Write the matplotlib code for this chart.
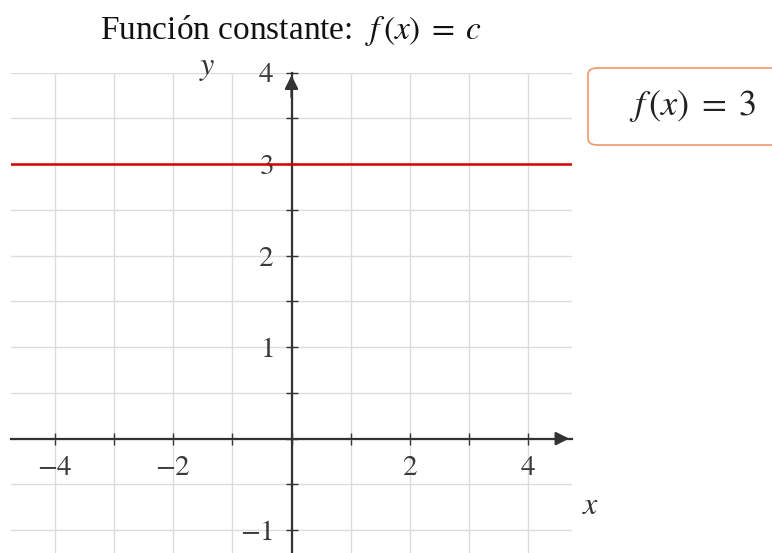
import matplotlib
matplotlib.use("Agg")
import matplotlib.pyplot as plt
from matplotlib.patches import FancyBboxPatch

plt.rcParams["font.family"] = ["Liberation Serif", "DejaVu Serif"]
plt.rcParams["mathtext.fontset"] = "stix"

# datos
c = 3
x_domain = [-4.75, 4.75]
y_domain = [-1.25, 4.0]
x_ticks = [-4, -3, -2, -1, 0, 1, 2, 3, 4]
x_labels = ["$-4$", "", "$-2$", "", "", "", "$2$", "", "$4$"]
y_ticks = [-1.0, -0.5, 0.0, 0.5, 1.0, 1.5, 2.0, 2.5, 3.0, 3.5, 4.0]
y_labels = ["$-1$", "", "", "", "$1$", "", "$2$", "", "$3$", "", "$4$"]

AX_COL = "#333333"

fig = plt.figure(figsize=(7.72, 5.53), dpi=100)
ax = fig.add_axes([11 / 772, 0.0, 561 / 772, 480.5 / 553])

ax.set_xlim(*x_domain)
ax.set_ylim(*y_domain)

ax.set_xticks(x_ticks)
ax.set_xticklabels(x_labels)
ax.set_yticks(y_ticks)
ax.set_yticklabels(y_labels)
ax.grid(True, color="#dcdcdc", linewidth=1.0, zorder=0)
ax.set_axisbelow(True)

for s in ["top", "right"]:
    ax.spines[s].set_visible(False)
for s in ["left", "bottom"]:
    ax.spines[s].set_position(("data", 0))
    ax.spines[s].set_color(AX_COL)
    ax.spines[s].set_linewidth(1.6)

ax.tick_params(axis="both", direction="inout", length=8, width=1.0,
               color=AX_COL, labelcolor="#3a3a3a", labelsize=21)
ax.tick_params(axis="x", pad=8)
ax.tick_params(axis="y", pad=9)

# flechas de los ejes
ax.annotate("", xy=(x_domain[1], 0), xytext=(x_domain[1] - 0.3, 0),
            arrowprops=dict(arrowstyle="-|>", color=AX_COL, lw=1.6,
                            mutation_scale=20), annotation_clip=False)
ax.annotate("", xy=(0, y_domain[1]), xytext=(0, y_domain[1] - 0.3),
            arrowprops=dict(arrowstyle="-|>", color=AX_COL, lw=1.6,
                            mutation_scale=20), annotation_clip=False)

# función constante
ax.plot(x_domain, [c, c], color="#d40000", linewidth=1.8, zorder=3)

ax.text(-1.42, 4.04, "$y$", fontsize=23, color=AX_COL, ha="center", va="center")
ax.text(5.07, -0.74, "$x$", fontsize=23, color=AX_COL, ha="center", va="center",
        clip_on=False)

ax.set_title(r"Función constante:  $f\,(x)\;=\;c$", fontsize=24, pad=24,
             color="#111111")

# cuadro de la función
box = FancyBboxPatch((588 / 772, 1 - 145 / 553), 0.3, 77 / 553,
                     boxstyle="round,pad=0,rounding_size=0.012",
                     transform=fig.transFigure, facecolor="white",
                     edgecolor="#f0956a", linewidth=1.2, clip_on=False)
fig.patches.append(box)
fig.text(693 / 772, 1 - 106 / 553, r"$f\,(x)\;=\;%d$" % c, fontsize=26,
         ha="center", va="center", color="#222222")

fig.savefig("out.png", dpi=100)
